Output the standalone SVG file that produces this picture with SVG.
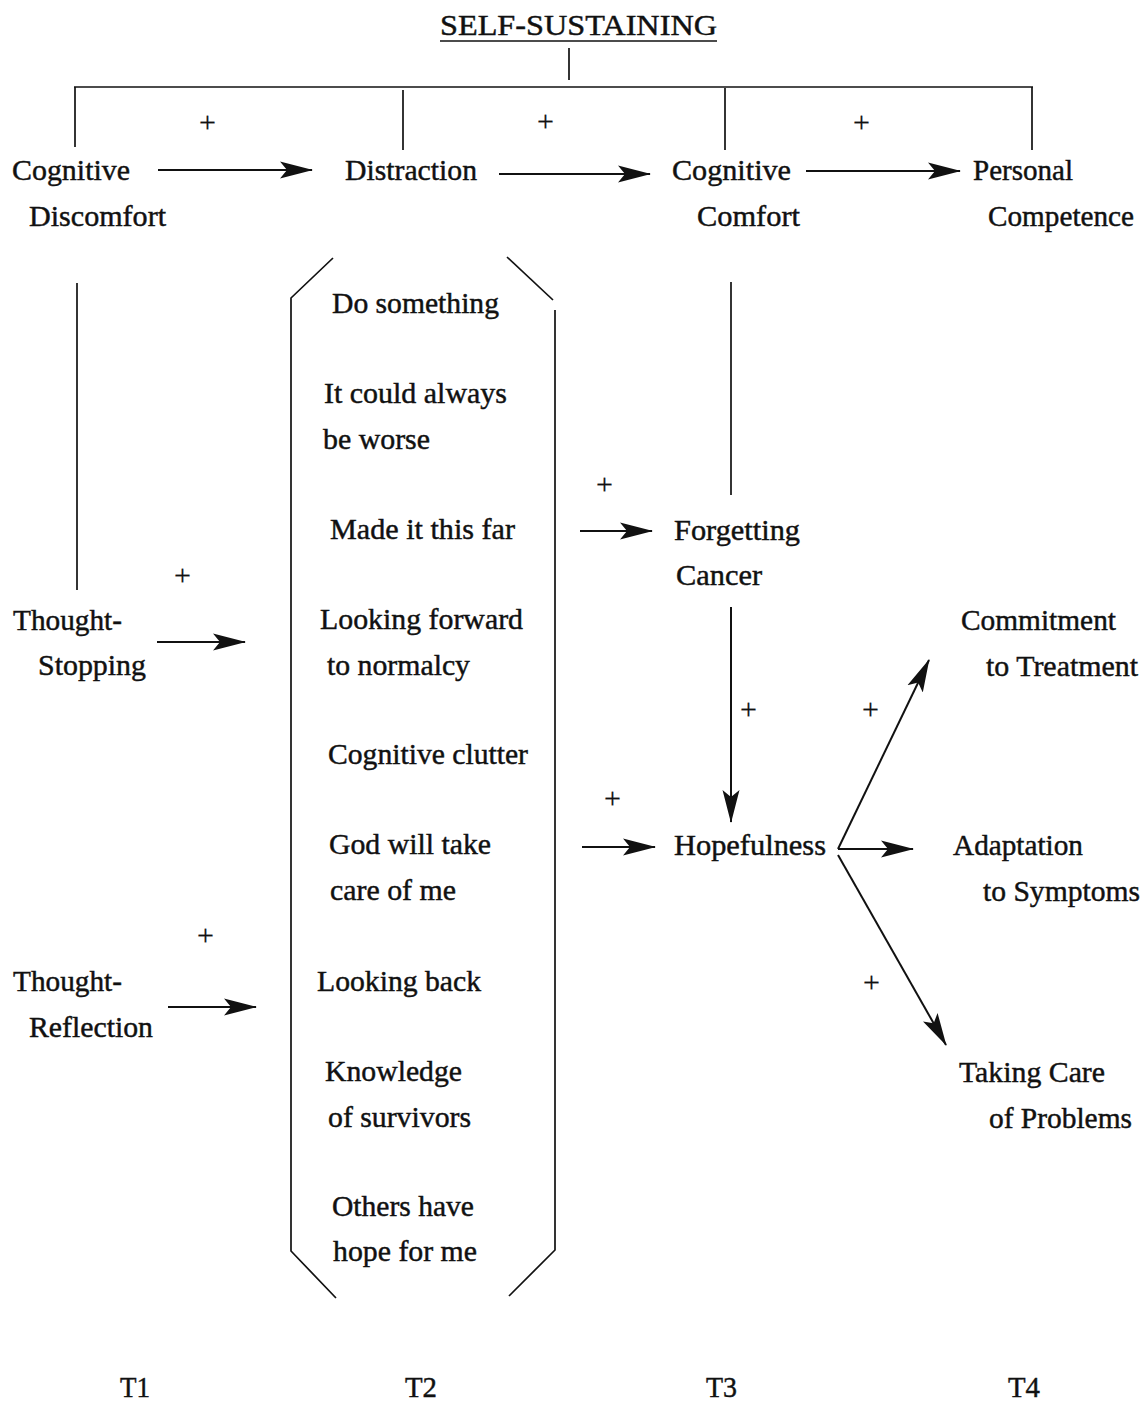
<svg xmlns="http://www.w3.org/2000/svg" width="1146" height="1403" viewBox="0 0 1146 1403">
<style>
text{font-family:"Liberation Serif","Times New Roman",serif;font-size:30px;fill:#111;stroke:#111;stroke-width:0.45}
.plus{font-size:30px;stroke-width:0.2}
.ln{stroke:#111;stroke-width:1.7;fill:none}
.ar{stroke:#111;stroke-width:2;fill:none;marker-end:url(#ah)}
</style>
<defs>
<marker id="ah" markerUnits="userSpaceOnUse" markerWidth="34" markerHeight="18" viewBox="0 0 34 18" refX="32" refY="9" orient="auto">
<path d="M0,0.5 L33,9 L0,17.5 L7,9 z" fill="#111"/>
</marker>
</defs>
<rect width="1146" height="1403" fill="#fff"/>

<g id="title">
<text x="440" y="35" textLength="277" lengthAdjust="spacingAndGlyphs">SELF-SUSTAINING</text>
<line class="ln" x1="440" y1="41" x2="717" y2="41" stroke-width="2"/>
</g>

<g id="connectors">
<line class="ln" x1="569" y1="48" x2="569" y2="80"/>
<line class="ln" x1="74" y1="87" x2="1033" y2="87" stroke-width="2.4"/>
<line class="ln" x1="75" y1="87" x2="75" y2="147"/>
<line class="ln" x1="403" y1="90" x2="403" y2="150"/>
<line class="ln" x1="725" y1="88" x2="725" y2="150"/>
<line class="ln" x1="1032" y1="87" x2="1032" y2="150"/>
<line class="ar" x1="158" y1="170" x2="312" y2="170"/>
<line class="ar" x1="499" y1="174" x2="650" y2="174"/>
<line class="ar" x1="806" y1="171" x2="960" y2="171"/>
<line class="ln" x1="77" y1="283" x2="77" y2="590"/>
<line class="ln" x1="731" y1="282" x2="731" y2="495"/>
<line class="ar" x1="157" y1="642" x2="245" y2="642"/>
<line class="ar" x1="168" y1="1007" x2="256" y2="1007"/>
<line class="ar" x1="580" y1="531" x2="652" y2="531"/>
<line class="ar" x1="582" y1="847" x2="655" y2="847"/>
<line class="ar" x1="731" y1="607" x2="731" y2="822"/>
<line class="ar" x1="838" y1="849" x2="929" y2="660"/>
<line class="ar" x1="838" y1="849" x2="913" y2="849"/>
<line class="ar" x1="838" y1="855" x2="946" y2="1045"/>
<text class="plus" x="199" y="132">+</text>
<text class="plus" x="537" y="131">+</text>
<text class="plus" x="853" y="132">+</text>
<text class="plus" x="174" y="585">+</text>
<text class="plus" x="197" y="945">+</text>
<text class="plus" x="596" y="494">+</text>
<text class="plus" x="604" y="808">+</text>
<text class="plus" x="740" y="719">+</text>
<text class="plus" x="862" y="719">+</text>
<text class="plus" x="863" y="992">+</text>
</g>

<g id="bracket">
<polyline class="ln" points="333,258 291,298 291,1251 336,1298"/>
<polyline class="ln" points="507,257 553,300"/>
<polyline class="ln" points="555,310 555,1250 509,1296"/>
</g>

<g id="cognitive-discomfort">
<text x="12" y="180" textLength="118" lengthAdjust="spacingAndGlyphs">Cognitive</text>
<text x="29" y="226" textLength="137" lengthAdjust="spacingAndGlyphs">Discomfort</text>
</g>
<g id="distraction">
<text x="345" y="180" textLength="132" lengthAdjust="spacingAndGlyphs">Distraction</text>
</g>
<g id="cognitive-comfort">
<text x="672" y="180" textLength="119" lengthAdjust="spacingAndGlyphs">Cognitive</text>
<text x="697" y="226" textLength="103" lengthAdjust="spacingAndGlyphs">Comfort</text>
</g>
<g id="personal-competence">
<text x="973" y="180" textLength="100" lengthAdjust="spacingAndGlyphs">Personal</text>
<text x="988" y="226" textLength="146" lengthAdjust="spacingAndGlyphs">Competence</text>
</g>

<g id="distraction-items">
<text x="332" y="313" textLength="167" lengthAdjust="spacingAndGlyphs">Do something</text>
<text x="324" y="403" textLength="183" lengthAdjust="spacingAndGlyphs">It could always</text>
<text x="323" y="449" textLength="107" lengthAdjust="spacingAndGlyphs">be worse</text>
<text x="330" y="539" textLength="185" lengthAdjust="spacingAndGlyphs">Made it this far</text>
<text x="320" y="629" textLength="203" lengthAdjust="spacingAndGlyphs">Looking forward</text>
<text x="327" y="675" textLength="143" lengthAdjust="spacingAndGlyphs">to normalcy</text>
<text x="328" y="764" textLength="200" lengthAdjust="spacingAndGlyphs">Cognitive clutter</text>
<text x="329" y="854" textLength="162" lengthAdjust="spacingAndGlyphs">God will take</text>
<text x="330" y="900" textLength="126" lengthAdjust="spacingAndGlyphs">care of me</text>
<text x="317" y="991" textLength="164" lengthAdjust="spacingAndGlyphs">Looking back</text>
<text x="325" y="1081" textLength="137" lengthAdjust="spacingAndGlyphs">Knowledge</text>
<text x="328" y="1127" textLength="143" lengthAdjust="spacingAndGlyphs">of survivors</text>
<text x="332" y="1216" textLength="142" lengthAdjust="spacingAndGlyphs">Others have</text>
<text x="333" y="1261" textLength="144" lengthAdjust="spacingAndGlyphs">hope for me</text>
</g>

<g id="thought-stopping">
<text x="13" y="630" textLength="109" lengthAdjust="spacingAndGlyphs">Thought-</text>
<text x="38" y="675" textLength="108" lengthAdjust="spacingAndGlyphs">Stopping</text>
</g>
<g id="thought-reflection">
<text x="13" y="991" textLength="109" lengthAdjust="spacingAndGlyphs">Thought-</text>
<text x="29" y="1037" textLength="124" lengthAdjust="spacingAndGlyphs">Reflection</text>
</g>
<g id="forgetting-cancer">
<text x="674" y="540" textLength="126" lengthAdjust="spacingAndGlyphs">Forgetting</text>
<text x="676" y="585" textLength="86" lengthAdjust="spacingAndGlyphs">Cancer</text>
</g>
<g id="hopefulness">
<text x="674" y="855" textLength="152" lengthAdjust="spacingAndGlyphs">Hopefulness</text>
</g>
<g id="commitment">
<text x="961" y="630" textLength="155" lengthAdjust="spacingAndGlyphs">Commitment</text>
<text x="986" y="676" textLength="152" lengthAdjust="spacingAndGlyphs">to Treatment</text>
</g>
<g id="adaptation">
<text x="953" y="855" textLength="130" lengthAdjust="spacingAndGlyphs">Adaptation</text>
<text x="983" y="901" textLength="157" lengthAdjust="spacingAndGlyphs">to Symptoms</text>
</g>
<g id="taking-care">
<text x="959" y="1082" textLength="146" lengthAdjust="spacingAndGlyphs">Taking Care</text>
<text x="989" y="1128" textLength="143" lengthAdjust="spacingAndGlyphs">of Problems</text>
</g>

<g id="time-labels">
<text x="120" y="1397" textLength="30" lengthAdjust="spacingAndGlyphs">T1</text>
<text x="405" y="1397" textLength="32" lengthAdjust="spacingAndGlyphs">T2</text>
<text x="706" y="1397" textLength="31" lengthAdjust="spacingAndGlyphs">T3</text>
<text x="1008" y="1397" textLength="32" lengthAdjust="spacingAndGlyphs">T4</text>
</g>
</svg>
